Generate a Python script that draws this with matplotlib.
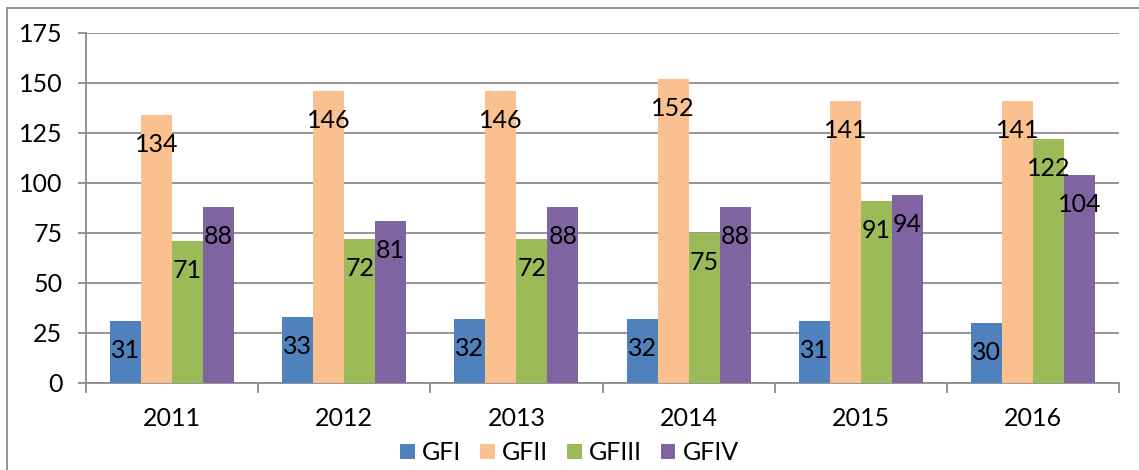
import matplotlib
matplotlib.use("Agg")
import matplotlib.pyplot as plt
import numpy as np
from matplotlib.patches import Rectangle

years = ["2011", "2012", "2013", "2014", "2015", "2016"]
series_names = ["GFI", "GFII", "GFIII", "GFIV"]
gfi = [31, 33, 32, 32, 31, 30]
gfii = [134, 146, 146, 152, 141, 141]
gfiii = [71, 72, 72, 75, 91, 122]
gfiv = [88, 81, 88, 88, 94, 104]
colors = ["#4F81BD", "#FAC090", "#9BBB59", "#8064A2"]
yticks = [0, 25, 50, 75, 100, 125, 150, 175]

plt.rcParams['font.family'] = ['Lato', 'DejaVu Sans']
W, H = 1139, 470
fig = plt.figure(figsize=(W / 100, H / 100), dpi=100)
ax = fig.add_axes([86 / W, 1 - 383 / H, (1119 - 86) / W, (383 - 33) / H])

FS = 18
data = [gfi, gfii, gfiii, gfiv]
x = np.arange(len(years))
bw = 0.18
for i, (vals, c, name) in enumerate(zip(data, colors, series_names)):
    pos = x + (i - 1.5) * bw
    ax.bar(pos, vals, width=bw, color=c, label=name, zorder=3)
    for px, v in zip(pos, vals):
        ax.annotate(str(v), (px, v), xytext=(0, -30), textcoords='offset pixels',
                    ha='center', va='center', fontsize=FS, color='black', zorder=4)

ax.set_xlim(-0.5, len(years) - 0.5)
ax.set_ylim(0, 175)
ax.set_yticks(yticks)
ax.set_yticklabels([str(t) for t in yticks], fontsize=FS)
ax.yaxis.grid(True, color='#8C8C8C', linewidth=1.3, zorder=0)
ax.set_axisbelow(True)
ax.tick_params(axis='y', length=6, color='#8C8C8C', width=1.3, pad=11)

ax.set_xticks(x)
ax.set_xticklabels(years, fontsize=FS)
ax.set_xticks(np.arange(-0.5, len(years)), minor=True)
ax.tick_params(axis='x', which='major', length=0, pad=17)
ax.tick_params(axis='x', which='minor', length=7, color='#8C8C8C', width=1.3)

for s in ['top', 'right']:
    ax.spines[s].set_visible(False)
for s in ['left', 'bottom']:
    ax.spines[s].set_color('#8C8C8C')
    ax.spines[s].set_linewidth(1.3)

leg = fig.legend(loc='center', bbox_to_anchor=(0.5, 1 - 453 / H), ncol=4, frameon=False,
                 fontsize=FS, handlelength=0.58, handleheight=0.58, handletextpad=0.3,
                 columnspacing=0.75)

border = Rectangle((7 / W, -0.05), 1.1, 1 - 8 / H + 0.05, transform=fig.transFigure,
                   fill=False, edgecolor='#8C8C8C', linewidth=1.3, clip_on=False)
fig.patches.append(border)

fig.savefig("out.png", dpi=100)
